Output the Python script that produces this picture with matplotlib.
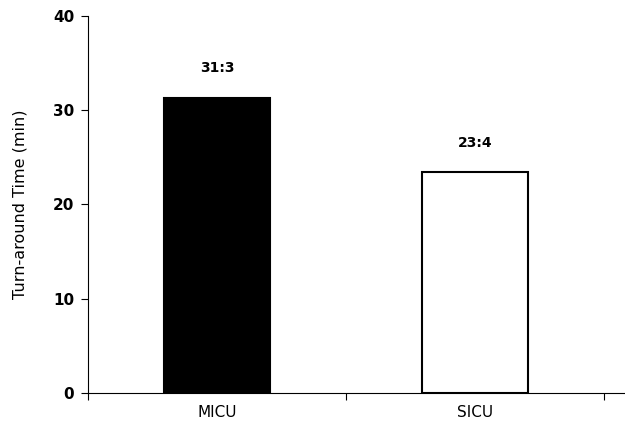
import matplotlib.pyplot as plt

units = ['MICU', 'SICU']
times = [31.3, 23.4]
labels = ['31:3', '23:4']
colors = ['black', 'white']

fig = plt.figure(figsize=(6.25, 4.34), dpi=100)
ax = fig.add_axes([0.141, 0.0945, 0.859, 0.869])

x = range(len(units))
ax.bar(x, times, width=0.41, color=colors, edgecolor='black', linewidth=1.5)
for i, t in enumerate(times):
    ax.text(i, t + 2.4, labels[i], ha='center', va='bottom', fontsize=10, fontweight='bold')

ax.set_xlim(-0.5, 1.58)
ax.set_ylim(0, 40)
ax.set_yticks([0, 10, 20, 30, 40])
ax.set_yticklabels(['0', '10', '20', '30', '40'], fontweight='bold', fontsize=11)
ax.set_xticks([-0.5, 0.5, 1.5])
ax.set_xticklabels([])
ax.set_xticks([0, 1], minor=True)
ax.set_xticklabels(units, minor=True, fontsize=11)
ax.tick_params(axis='x', which='minor', length=0, pad=9)
ax.tick_params(axis='x', which='major', length=5, direction='out')
ax.tick_params(axis='y', length=5, direction='out', pad=5)
ax.set_ylabel('Turn-around Time (min)', fontsize=11.5, labelpad=18)

ax.spines['top'].set_visible(False)
ax.spines['right'].set_visible(False)

plt.savefig('out.png', dpi=100)
